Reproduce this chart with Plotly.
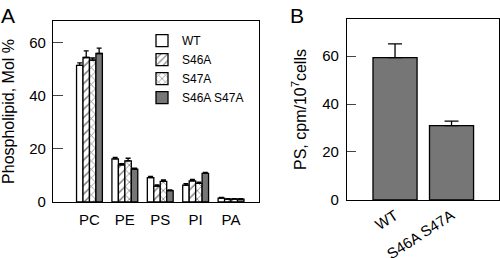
import plotly.graph_objects as go

# Panel A data
lipids = ["PC", "PE", "PS", "PI", "PA"]
wt = [51.5, 16.3, 9.2, 6.4, 1.5]
wt_err = [1.0, 0.5, 0.5, 0.5, 0.2]
s46a = [54.5, 14.0, 6.0, 8.0, 1.1]
s46a_err = [2.5, 0.5, 0.5, 0.5, 0.2]
s47a = [53.5, 15.5, 7.8, 7.0, 1.1]
s47a_err = [0.8, 1.0, 0.5, 0.5, 0.2]
dm = [56.0, 12.4, 4.3, 10.8, 1.1]
dm_err = [2.0, 0.4, 0.3, 0.4, 0.2]

# Panel B data
strains = ["WT", "S46A S47A"]
ps = [59.3, 31.0]
ps_err = [5.8, 1.9]

FONT = "Liberation Sans, Arial, sans-serif"
GRAY = "#767676"

fig = go.Figure()

def add_series(name, y, err, color, shape):
    pat = dict(shape=shape, fgcolor="black", bgcolor="white", size=6, solidity=0.25) if shape else None
    fig.add_trace(go.Bar(
        x=lipids, y=y, name=name,
        marker=dict(color=color, line=dict(color="black", width=1.3), pattern=pat),
        error_y=dict(type="data", array=err, arrayminus=[0]*len(err), symmetric=False,
                     color="black", thickness=1.3, width=2.5),
        xaxis="x", yaxis="y",
    ))

add_series("WT", wt, wt_err, "white", None)
add_series("S46A", s46a, s46a_err, "white", "/")
add_series("S47A", s47a, s47a_err, "white", "x")
add_series("S46A S47A", dm, dm_err, GRAY, None)

fig.add_trace(go.Bar(
    x=strains, y=ps, name="PS", showlegend=False, width=0.78,
    marker=dict(color=GRAY, line=dict(color="black", width=1.3)),
    error_y=dict(type="data", array=ps_err, arrayminus=[0, 0], symmetric=False,
                 color="black", thickness=1.3, width=7),
    xaxis="x2", yaxis="y2",
))

axis_common = dict(showline=True, linecolor="black", linewidth=1.3, mirror=True,
                   showgrid=False, zeroline=False, automargin=False)

fig.update_layout(
    width=500, height=258,
    margin=dict(l=0, r=0, t=0, b=0),
    paper_bgcolor="white", plot_bgcolor="white",
    barmode="group", bargap=0.27, bargroupgap=0,
    font=dict(family=FONT, color="black"),
    xaxis=dict(domain=[0.106, 0.518], anchor="y", range=[-1.03, 4.79],
               ticks="", ticklabelstandoff=4,
               tickfont=dict(family=FONT, size=15, color="black"), **axis_common),
    yaxis=dict(domain=[0.217, 0.919], anchor="x", range=[0, 68.3],
               tickvals=[0, 20, 40, 60], ticks="inside", ticklen=10, tickwidth=1.3,
               ticklabelstandoff=3,
               tickfont=dict(family=FONT, size=15, color="black"),
               title=dict(text="Phospholipid, Mol %", font=dict(family=FONT, size=16), standoff=14),
               **axis_common),
    xaxis2=dict(domain=[0.694, 0.998], anchor="y2", range=[-0.85, 1.84],
                ticks="", tickangle=-33,
                tickfont=dict(family=FONT, size=15, color="black"), **axis_common),
    yaxis2=dict(domain=[0.225, 0.926], anchor="x2", range=[0, 75.4],
                tickvals=[0, 20, 40, 60], ticks="inside", ticklen=9, tickwidth=1.3,
                ticklabelstandoff=4,
                tickfont=dict(family=FONT, size=15, color="black"),
                title=dict(text="PS, cpm/10<sup>7</sup>cells", font=dict(family=FONT, size=16), standoff=11),
                **axis_common),
    legend=dict(x=0.284, y=0.899, xanchor="left", yanchor="top",
                bgcolor="rgba(0,0,0,0)", font=dict(family=FONT, size=12),
                tracegroupgap=0, itemwidth=30),
    annotations=[
        dict(text="A", x=0.0, y=0.988, xref="paper", yref="paper", xanchor="left", yanchor="top",
             showarrow=False, borderpad=0, font=dict(family=FONT, size=21)),
        dict(text="B", x=0.578, y=0.988, xref="paper", yref="paper", xanchor="left", yanchor="top",
             showarrow=False, borderpad=0, font=dict(family=FONT, size=21)),
    ],
)

fig.write_html("out.html",
               config={"displayModeBar": False},
               post_script="document.body.style.margin='0';document.body.style.overflow='hidden';")
